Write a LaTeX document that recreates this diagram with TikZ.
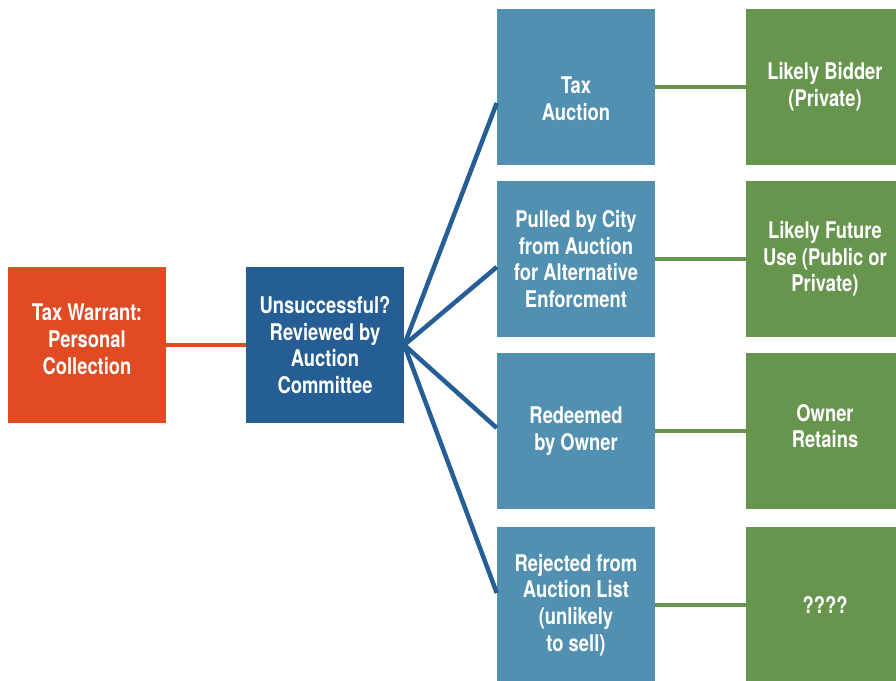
\documentclass[tikz,border=0pt]{standalone}
\usepackage{fontspec}
\setmainfont{TeX Gyre Heros}[FakeStretch=0.8]
\usepackage{tikz}
\definecolor{warrant}{HTML}{E04B23}
\definecolor{committee}{HTML}{245E94}
\definecolor{outcome}{HTML}{5190B0}
\definecolor{result}{HTML}{67954E}
\tikzstyle{box}=[minimum width=158, minimum height=156, inner sep=0, text=white, align=center, font=\fontsize{23}{26.7}\selectfont\bfseries]
\tikzstyle{wbox}=[box, fill=warrant]
\tikzstyle{cbox}=[box, fill=committee]
\tikzstyle{obox}=[box, fill=outcome]
\tikzstyle{rbox}=[box, fill=result]
\tikzstyle{wline}=[draw=warrant, line width=4.5]
\tikzstyle{cline}=[draw=committee, line width=4.5]
\tikzstyle{rline}=[draw=result, line width=4.5]

\begin{document}
\begin{tikzpicture}[x=1pt, y=1pt]

\useasboundingbox (0,0) rectangle (896,680);
\clip (0,0) rectangle (896,680);

\node[wbox] (warrant) at (87,335) {Tax Warrant:\\Personal\\Collection\\[-14.7pt]};
\node[cbox] (review) at (325,335) {Unsuccessful?\\Reviewed by\\Auction\\Committee};

\node[obox] (auction) at (576,593) {\\[13pt]Tax\\Auction};
\node[obox] (pulled) at (576,421) {Pulled by City\\from Auction\\for Alternative\\Enforcment};
\node[obox] (redeemed) at (576,249) {Redeemed\\by Owner};
\node[obox] (rejected) at (576,75) {Rejected from\\Auction List\\(unlikely\\to sell)};

\node[rbox] (bidder) at (825,593) {Likely Bidder\\(Private)};
\node[rbox] (future) at (825,421) {Likely Future\\Use (Public or\\Private)};
\node[rbox] (retains) at (825,249) {Owner\\Retains\\[-16.7pt]};
\node[rbox] (unknown) at (825,75) {????};

\draw[wline] (warrant.east) -- (review.west);

\draw[cline] (review.east) -- ([yshift=-16]auction.west);
\draw[cline] (review.east) -- ([yshift=-8]pulled.west);
\draw[cline] (review.east) -- ([yshift=3]redeemed.west);
\draw[cline] (review.east) -- ([yshift=12]rejected.west);

\draw[rline] (auction.east) -- (bidder.west);
\draw[rline] (pulled.east) -- (future.west);
\draw[rline] (redeemed.east) -- (retains.west);
\draw[rline] (rejected.east) -- (unknown.west);

\end{tikzpicture}
\end{document}
